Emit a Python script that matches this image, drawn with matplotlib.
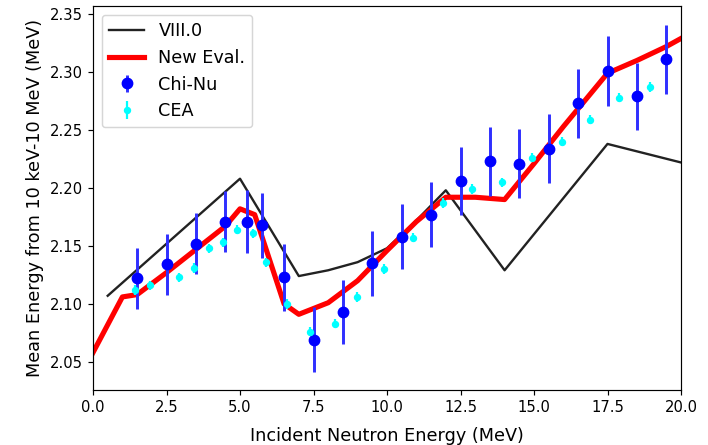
import numpy as np
import matplotlib
matplotlib.use("Agg")
import matplotlib.pyplot as plt

# ENDF/B-VIII.0 mean energies
viii_e = [0.5, 5.0, 7.0, 8.0, 9.0, 10.0, 11.0, 12.0, 14.0, 17.5, 20.0]
viii_mean = [2.107, 2.208, 2.124, 2.129, 2.136, 2.148, 2.172, 2.198, 2.129, 2.238, 2.222]

# new evaluation
new_e = [0.0, 1.0, 1.5, 2.5, 3.5, 4.5, 5.0, 5.5, 6.5, 7.0, 8.0, 9.0, 10.0,
         11.0, 12.0, 13.0, 14.0, 15.0, 16.0, 17.5, 18.5, 19.5, 20.0]
new_mean = [2.058, 2.106, 2.108, 2.127, 2.147, 2.167, 2.182, 2.177, 2.100, 2.091,
            2.101, 2.120, 2.146, 2.171, 2.192, 2.192, 2.190, 2.221, 2.253, 2.299,
            2.310, 2.322, 2.329]

# Chi-Nu measurement
chinu_e = [1.5, 2.5, 3.5, 4.5, 5.25, 5.75, 6.5, 7.5, 8.5, 9.5, 10.5, 11.5,
           12.5, 13.5, 14.5, 15.5, 16.5, 17.5, 18.5, 19.5]
chinu_mean = [2.122, 2.134, 2.152, 2.171, 2.171, 2.168, 2.123, 2.069, 2.093, 2.135,
              2.158, 2.177, 2.206, 2.223, 2.221, 2.234, 2.273, 2.301, 2.279, 2.311]
chinu_err = [0.026, 0.026, 0.026, 0.026, 0.027, 0.028, 0.029, 0.028, 0.028, 0.028,
             0.028, 0.028, 0.029, 0.030, 0.030, 0.030, 0.030, 0.030, 0.029, 0.030]

# CEA measurement
cea_e = [1.43, 1.94, 2.94, 3.45, 3.95, 4.43, 4.91, 5.45, 5.87, 6.6, 7.38, 8.23,
         8.99, 9.9, 10.9, 11.92, 12.88, 13.9, 14.92, 15.94, 16.9, 17.9, 18.95]
cea_mean = [2.112, 2.116, 2.123, 2.131, 2.148, 2.153, 2.164, 2.161, 2.136, 2.100,
            2.076, 2.083, 2.106, 2.130, 2.157, 2.187, 2.199, 2.205, 2.226, 2.240,
            2.259, 2.278, 2.287]
cea_err = [0.004] * len(cea_e)

fig = plt.figure(figsize=(708 / 106, 445 / 106), dpi=106)
ax = fig.add_axes([93 / 708, 55 / 445, 588 / 708, 384 / 445])

ax.plot(viii_e, viii_mean, color="#222222", lw=1.6, label="VIII.0")
ax.plot(new_e, new_mean, color="red", lw=3.5, label="New Eval.")
ax.errorbar(chinu_e, chinu_mean, yerr=chinu_err, fmt="o", color="blue",
            ecolor="#3030ff", elinewidth=2, markersize=7, label="Chi-Nu")
ax.errorbar(cea_e, cea_mean, yerr=cea_err, fmt="o", color="cyan",
            elinewidth=1.5, markersize=4, label="CEA")

ax.set_xlim(0, 20)
ax.set_ylim(2.0257, 2.357)
ax.set_xticks(np.arange(0, 20.1, 2.5))
ax.set_yticks([2.05, 2.10, 2.15, 2.20, 2.25, 2.30, 2.35])
ax.tick_params(labelsize=10)
ax.set_xlabel("Incident Neutron Energy (MeV)", fontsize=12, labelpad=8)
ax.set_ylabel("Mean Energy from 10 keV-10 MeV (MeV)", fontsize=12)
ax.legend(loc="upper left", fontsize=12)

fig.savefig("out.png", dpi=106)
